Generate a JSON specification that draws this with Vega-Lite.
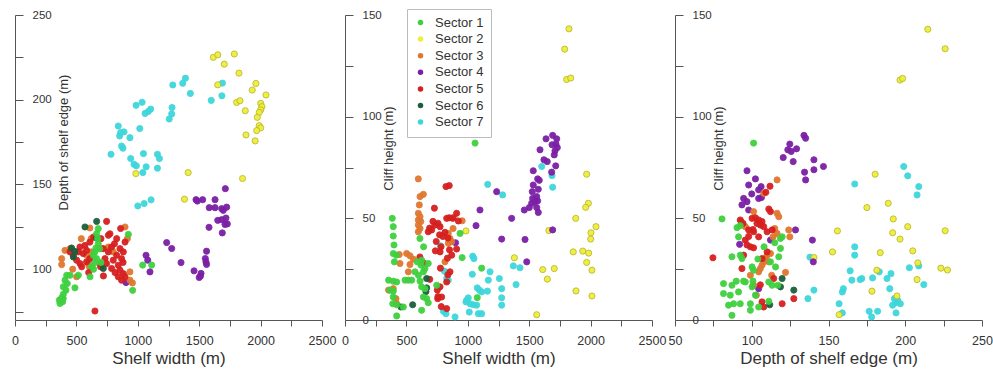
{
"$schema": "https://vega.github.io/schema/vega-lite/v6.json",
"background": "white",
"padding": {"left": 11, "top": 8, "right": 0, "bottom": 0},
"bounds": "flush",
"spacing": 23,
"config": {
  "view": {"stroke": null},
  "axis": {"grid": false, "domainColor": "#555", "tickColor": "#555", "labelColor": "#333", "titleColor": "#333", "labelFont": "Liberation Sans", "titleFont": "Liberation Sans", "titleFontWeight": "normal", "domainWidth": 1, "tickWidth": 1}
},
"resolve": {"legend": {"color": "independent"}},
"datasets": {
"p1": [
{"sector":"Sector 7","width":1285,"depth":208.7},{"sector":"Sector 7","width":1366,"depth":209.7},{"sector":"Sector 7","width":1388,"depth":212.7},{"sector":"Sector 7","width":1428,"depth":203.7},{"sector":"Sector 7","width":1689,"depth":209.8},{"sector":"Sector 7","width":1685,"depth":202.3},{"sector":"Sector 7","width":1598,"depth":199.6},{"sector":"Sector 7","width":986,"depth":196.7},{"sector":"Sector 7","width":1035,"depth":198.5},{"sector":"Sector 7","width":1059,"depth":191.9},{"sector":"Sector 7","width":1086,"depth":193.1},{"sector":"Sector 7","width":1105,"depth":194.5},{"sector":"Sector 7","width":1279,"depth":195.4},{"sector":"Sector 7","width":1276,"depth":191.6},{"sector":"Sector 7","width":1256,"depth":188.6},{"sector":"Sector 7","width":1016,"depth":183},{"sector":"Sector 7","width":841,"depth":184.5},{"sector":"Sector 7","width":860,"depth":180.6},{"sector":"Sector 7","width":888,"depth":181},{"sector":"Sector 7","width":852,"depth":178.6},{"sector":"Sector 7","width":936,"depth":177.6},{"sector":"Sector 7","width":868,"depth":172.7},{"sector":"Sector 7","width":879,"depth":171.4},{"sector":"Sector 7","width":782,"depth":167.8},{"sector":"Sector 7","width":1046,"depth":168.2},{"sector":"Sector 7","width":1160,"depth":167.8},{"sector":"Sector 7","width":1176,"depth":165.3},{"sector":"Sector 7","width":942,"depth":165.3},{"sector":"Sector 7","width":969,"depth":161.9},{"sector":"Sector 7","width":988,"depth":161},{"sector":"Sector 7","width":1068,"depth":160.4},{"sector":"Sector 7","width":1160,"depth":159.6},{"sector":"Sector 7","width":1041,"depth":157},{"sector":"Sector 7","width":1000,"depth":137.3},{"sector":"Sector 7","width":1052,"depth":138.7},{"sector":"Sector 7","width":1108,"depth":140.9},
{"sector":"Sector 2","width":1615,"depth":225},{"sector":"Sector 2","width":1651,"depth":226.5},{"sector":"Sector 2","width":1786,"depth":227},{"sector":"Sector 2","width":1704,"depth":221},{"sector":"Sector 2","width":1824,"depth":215.7},{"sector":"Sector 2","width":1962,"depth":209.6},{"sector":"Sector 2","width":1651,"depth":208.8},{"sector":"Sector 2","width":1932,"depth":205.7},{"sector":"Sector 2","width":2044,"depth":202.8},{"sector":"Sector 2","width":2001,"depth":197.8},{"sector":"Sector 2","width":2011,"depth":195.9},{"sector":"Sector 2","width":2001,"depth":194},{"sector":"Sector 2","width":1989,"depth":192.5},{"sector":"Sector 2","width":1805,"depth":198.4},{"sector":"Sector 2","width":1832,"depth":199.4},{"sector":"Sector 2","width":1875,"depth":193.5},{"sector":"Sector 2","width":1973,"depth":189.6},{"sector":"Sector 2","width":1989,"depth":184.7},{"sector":"Sector 2","width":2001,"depth":183.4},{"sector":"Sector 2","width":1968,"depth":181.8},{"sector":"Sector 2","width":1881,"depth":179.2},{"sector":"Sector 2","width":1956,"depth":175.7},{"sector":"Sector 2","width":984,"depth":156.4},{"sector":"Sector 2","width":1410,"depth":157},{"sector":"Sector 2","width":1853,"depth":153.5},{"sector":"Sector 2","width":1380,"depth":141.3},
{"sector":"Sector 4","width":1713,"depth":147.5},{"sector":"Sector 4","width":1474,"depth":141},{"sector":"Sector 4","width":1485,"depth":140.2},{"sector":"Sector 4","width":1528,"depth":141},{"sector":"Sector 4","width":1629,"depth":141},{"sector":"Sector 4","width":1582,"depth":136.3},{"sector":"Sector 4","width":1629,"depth":136.3},{"sector":"Sector 4","width":1683,"depth":135.7},{"sector":"Sector 4","width":1724,"depth":136.6},{"sector":"Sector 4","width":1696,"depth":134.7},{"sector":"Sector 4","width":1651,"depth":128.8},{"sector":"Sector 4","width":1683,"depth":129.2},{"sector":"Sector 4","width":1718,"depth":130.2},{"sector":"Sector 4","width":1729,"depth":126.7},{"sector":"Sector 4","width":1710,"depth":126.4},{"sector":"Sector 4","width":1580,"depth":124.7},{"sector":"Sector 4","width":1688,"depth":121.4},{"sector":"Sector 4","width":1235,"depth":115.7},{"sector":"Sector 4","width":1276,"depth":112.2},{"sector":"Sector 4","width":1560,"depth":110.6},{"sector":"Sector 4","width":1550,"depth":106.3},{"sector":"Sector 4","width":1555,"depth":104.3},{"sector":"Sector 4","width":1560,"depth":102.8},{"sector":"Sector 4","width":1352,"depth":103.9},{"sector":"Sector 4","width":1067,"depth":108.2},{"sector":"Sector 4","width":1081,"depth":105.3},{"sector":"Sector 4","width":1099,"depth":98.4},{"sector":"Sector 4","width":1458,"depth":99},{"sector":"Sector 4","width":1515,"depth":97.5},{"sector":"Sector 4","width":1510,"depth":95.9},{"sector":"Sector 4","width":1500,"depth":95.1},{"sector":"Sector 4","width":904,"depth":92.1},
{"sector":"Sector 3","width":896,"depth":124.9},{"sector":"Sector 3","width":610,"depth":124.3},{"sector":"Sector 3","width":407,"depth":111.1},{"sector":"Sector 3","width":448,"depth":112.1},{"sector":"Sector 3","width":380,"depth":106.2},{"sector":"Sector 3","width":380,"depth":102.7},{"sector":"Sector 3","width":583,"depth":108.2},{"sector":"Sector 3","width":597,"depth":103.3},{"sector":"Sector 3","width":624,"depth":110.2},{"sector":"Sector 3","width":706,"depth":112.1},{"sector":"Sector 3","width":760,"depth":113.1},{"sector":"Sector 3","width":800,"depth":110.2},{"sector":"Sector 3","width":936,"depth":93.5},{"sector":"Sector 3","width":936,"depth":98.4},{"sector":"Sector 3","width":502,"depth":95.5},{"sector":"Sector 3","width":605,"depth":101.4},{"sector":"Sector 3","width":692,"depth":103.3},{"sector":"Sector 3","width":915,"depth":118},{"sector":"Sector 3","width":956,"depth":91.9},{"sector":"Sector 3","width":620,"depth":118},{"sector":"Sector 3","width":540,"depth":118},{"sector":"Sector 3","width":470,"depth":100},
{"sector":"Sector 5","width":746,"depth":128.2},{"sector":"Sector 5","width":773,"depth":120.9},{"sector":"Sector 5","width":760,"depth":120},{"sector":"Sector 5","width":828,"depth":118},{"sector":"Sector 5","width":896,"depth":116},{"sector":"Sector 5","width":529,"depth":113.1},{"sector":"Sector 5","width":570,"depth":114},{"sector":"Sector 5","width":610,"depth":116},{"sector":"Sector 5","width":516,"depth":110.2},{"sector":"Sector 5","width":556,"depth":109.2},{"sector":"Sector 5","width":583,"depth":111.1},{"sector":"Sector 5","width":719,"depth":112.1},{"sector":"Sector 5","width":760,"depth":110.2},{"sector":"Sector 5","width":787,"depth":113.1},{"sector":"Sector 5","width":855,"depth":112.1},{"sector":"Sector 5","width":882,"depth":110.2},{"sector":"Sector 5","width":828,"depth":108.2},{"sector":"Sector 5","width":868,"depth":106.2},{"sector":"Sector 5","width":800,"depth":105.3},{"sector":"Sector 5","width":746,"depth":103.3},{"sector":"Sector 5","width":841,"depth":102.3},{"sector":"Sector 5","width":855,"depth":99.4},{"sector":"Sector 5","width":882,"depth":97.4},{"sector":"Sector 5","width":841,"depth":95.5},{"sector":"Sector 5","width":896,"depth":95.5},{"sector":"Sector 5","width":868,"depth":93.5},{"sector":"Sector 5","width":448,"depth":110.2},{"sector":"Sector 5","width":475,"depth":108.2},{"sector":"Sector 5","width":502,"depth":105.3},{"sector":"Sector 5","width":529,"depth":103.3},{"sector":"Sector 5","width":583,"depth":104.3},{"sector":"Sector 5","width":610,"depth":106.2},{"sector":"Sector 5","width":543,"depth":101.4},{"sector":"Sector 5","width":697,"depth":101.4},{"sector":"Sector 5","width":733,"depth":106.2},{"sector":"Sector 5","width":787,"depth":100.4},{"sector":"Sector 5","width":651,"depth":75.3},{"sector":"Sector 5","width":700,"depth":118},{"sector":"Sector 5","width":640,"depth":119},{"sector":"Sector 5","width":810,"depth":115},{"sector":"Sector 5","width":720,"depth":96},{"sector":"Sector 5","width":600,"depth":98},{"sector":"Sector 5","width":860,"depth":124},{"sector":"Sector 5","width":880,"depth":104},{"sector":"Sector 5","width":815,"depth":98},
{"sector":"Sector 6","width":665,"depth":128.2},{"sector":"Sector 6","width":570,"depth":124.9},{"sector":"Sector 6","width":461,"depth":112.5},{"sector":"Sector 6","width":475,"depth":107.2},{"sector":"Sector 6","width":488,"depth":110.5},{"sector":"Sector 6","width":665,"depth":118.4},{"sector":"Sector 6","width":719,"depth":100.4},
{"sector":"Sector 1","width":678,"depth":123.9},{"sector":"Sector 1","width":665,"depth":120.9},{"sector":"Sector 1","width":673,"depth":118},{"sector":"Sector 1","width":678,"depth":115},{"sector":"Sector 1","width":659,"depth":112.5},{"sector":"Sector 1","width":651,"depth":110.2},{"sector":"Sector 1","width":638,"depth":108.2},{"sector":"Sector 1","width":665,"depth":106.2},{"sector":"Sector 1","width":651,"depth":103.9},{"sector":"Sector 1","width":624,"depth":101.7},{"sector":"Sector 1","width":923,"depth":120.5},{"sector":"Sector 1","width":421,"depth":96.4},{"sector":"Sector 1","width":448,"depth":96.4},{"sector":"Sector 1","width":407,"depth":93.5},{"sector":"Sector 1","width":426,"depth":91.5},{"sector":"Sector 1","width":393,"depth":89.6},{"sector":"Sector 1","width":415,"depth":87.6},{"sector":"Sector 1","width":393,"depth":85.1},{"sector":"Sector 1","width":380,"depth":83.1},{"sector":"Sector 1","width":361,"depth":81.7},{"sector":"Sector 1","width":388,"depth":80.8},{"sector":"Sector 1","width":366,"depth":79.8},{"sector":"Sector 1","width":393,"depth":82.7},{"sector":"Sector 1","width":516,"depth":96.4},{"sector":"Sector 1","width":488,"depth":89},{"sector":"Sector 1","width":611,"depth":95.5},{"sector":"Sector 1","width":958,"depth":87.5},{"sector":"Sector 1","width":1040,"depth":102.4},{"sector":"Sector 1","width":1113,"depth":102.4},{"sector":"Sector 1","width":690,"depth":112},{"sector":"Sector 1","width":640,"depth":100},{"sector":"Sector 1","width":700,"depth":104}
],
"p2": [
{"sector":"Sector 7","width":1602,"height":75.5},{"sector":"Sector 7","width":1686,"height":71},{"sector":"Sector 7","width":1691,"height":65.3},{"sector":"Sector 7","width":1162,"height":66.7},{"sector":"Sector 7","width":1284,"height":61.5},{"sector":"Sector 7","width":1040,"height":31.4},{"sector":"Sector 7","width":1050,"height":30.2},{"sector":"Sector 7","width":1181,"height":23.7},{"sector":"Sector 7","width":1037,"height":22.5},{"sector":"Sector 7","width":1371,"height":26.6},{"sector":"Sector 7","width":1425,"height":25.7},{"sector":"Sector 7","width":1257,"height":20.4},{"sector":"Sector 7","width":1167,"height":19.6},{"sector":"Sector 7","width":1393,"height":17.4},{"sector":"Sector 7","width":1276,"height":15.4},{"sector":"Sector 7","width":1077,"height":15.8},{"sector":"Sector 7","width":1094,"height":14.7},{"sector":"Sector 7","width":1113,"height":13.8},{"sector":"Sector 7","width":1160,"height":14.2},{"sector":"Sector 7","width":1276,"height":10.9},{"sector":"Sector 7","width":1004,"height":10.9},{"sector":"Sector 7","width":985,"height":8.9},{"sector":"Sector 7","width":1018,"height":8},{"sector":"Sector 7","width":1045,"height":7.5},{"sector":"Sector 7","width":1072,"height":7.3},{"sector":"Sector 7","width":1276,"height":7.3},{"sector":"Sector 7","width":1012,"height":3.9},{"sector":"Sector 7","width":1086,"height":3.1},{"sector":"Sector 7","width":1113,"height":3.1},{"sector":"Sector 7","width":778,"height":36.5},{"sector":"Sector 7","width":810,"height":24},{"sector":"Sector 7","width":828,"height":20.4},{"sector":"Sector 7","width":841,"height":19.6},{"sector":"Sector 7","width":801,"height":4.3},{"sector":"Sector 7","width":822,"height":3.1},{"sector":"Sector 7","width":896,"height":1.5},{"sector":"Sector 7","width":991,"height":9.7},
{"sector":"Sector 2","width":1824,"height":143.2},{"sector":"Sector 2","width":1789,"height":133.2},{"sector":"Sector 2","width":1805,"height":118.3},{"sector":"Sector 2","width":1838,"height":119},{"sector":"Sector 2","width":1968,"height":71.7},{"sector":"Sector 2","width":1982,"height":57.4},{"sector":"Sector 2","width":1960,"height":55.4},{"sector":"Sector 2","width":1879,"height":50},{"sector":"Sector 2","width":2044,"height":45.9},{"sector":"Sector 2","width":2003,"height":42.9},{"sector":"Sector 2","width":2001,"height":39.8},{"sector":"Sector 2","width":1859,"height":33.5},{"sector":"Sector 2","width":1936,"height":33.9},{"sector":"Sector 2","width":1984,"height":32.9},{"sector":"Sector 2","width":1968,"height":28.3},{"sector":"Sector 2","width":2011,"height":24.5},{"sector":"Sector 2","width":1881,"height":14.3},{"sector":"Sector 2","width":2011,"height":11.8},{"sector":"Sector 2","width":985,"height":43.8},{"sector":"Sector 2","width":1379,"height":30.6},{"sector":"Sector 2","width":1610,"height":24.8},{"sector":"Sector 2","width":1704,"height":25.3},{"sector":"Sector 2","width":1648,"height":20.1},{"sector":"Sector 2","width":1561,"height":2.6},{"sector":"Sector 2","width":1660,"height":44},
{"sector":"Sector 4","width":1637,"height":89.1},{"sector":"Sector 4","width":1691,"height":90.8},{"sector":"Sector 4","width":1724,"height":89.1},{"sector":"Sector 4","width":1686,"height":86.2},{"sector":"Sector 4","width":1718,"height":86.5},{"sector":"Sector 4","width":1729,"height":84.8},{"sector":"Sector 4","width":1710,"height":83.2},{"sector":"Sector 4","width":1704,"height":81.2},{"sector":"Sector 4","width":1588,"height":83.7},{"sector":"Sector 4","width":1620,"height":78.8},{"sector":"Sector 4","width":1647,"height":77.9},{"sector":"Sector 4","width":1716,"height":75.8},{"sector":"Sector 4","width":1683,"height":72.7},{"sector":"Sector 4","width":1533,"height":73.4},{"sector":"Sector 4","width":1569,"height":69.4},{"sector":"Sector 4","width":1582,"height":68.7},{"sector":"Sector 4","width":1533,"height":66.4},{"sector":"Sector 4","width":1525,"height":63.1},{"sector":"Sector 4","width":1574,"height":64.3},{"sector":"Sector 4","width":1528,"height":59.8},{"sector":"Sector 4","width":1561,"height":60.7},{"sector":"Sector 4","width":1569,"height":58.6},{"sector":"Sector 4","width":1520,"height":57.4},{"sector":"Sector 4","width":1547,"height":58.2},{"sector":"Sector 4","width":1501,"height":55.3},{"sector":"Sector 4","width":1460,"height":54.1},{"sector":"Sector 4","width":1561,"height":55.3},{"sector":"Sector 4","width":1574,"height":52.9},{"sector":"Sector 4","width":1235,"height":63.1},{"sector":"Sector 4","width":1099,"height":54.1},{"sector":"Sector 4","width":1357,"height":50},{"sector":"Sector 4","width":1067,"height":46.4},{"sector":"Sector 4","width":1691,"height":44.3},{"sector":"Sector 4","width":1276,"height":39.8},{"sector":"Sector 4","width":1466,"height":39.6},{"sector":"Sector 4","width":1480,"height":28.6},{"sector":"Sector 4","width":900,"height":38},
{"sector":"Sector 3","width":597,"height":69.4},{"sector":"Sector 3","width":611,"height":60.7},{"sector":"Sector 3","width":638,"height":61.8},{"sector":"Sector 3","width":605,"height":56.6},{"sector":"Sector 3","width":597,"height":52.5},{"sector":"Sector 3","width":611,"height":50.8},{"sector":"Sector 3","width":597,"height":49.2},{"sector":"Sector 3","width":617,"height":48.4},{"sector":"Sector 3","width":597,"height":46.7},{"sector":"Sector 3","width":611,"height":45},{"sector":"Sector 3","width":597,"height":43.4},{"sector":"Sector 3","width":442,"height":32.2},{"sector":"Sector 3","width":502,"height":32.7},{"sector":"Sector 3","width":529,"height":31.6},{"sector":"Sector 3","width":529,"height":27.3},{"sector":"Sector 3","width":448,"height":27.8},{"sector":"Sector 3","width":516,"height":23.7},{"sector":"Sector 3","width":556,"height":29.9},{"sector":"Sector 3","width":393,"height":15.4},{"sector":"Sector 3","width":355,"height":14.7},{"sector":"Sector 3","width":415,"height":10.5},{"sector":"Sector 3","width":421,"height":8},{"sector":"Sector 3","width":841,"height":42.6},{"sector":"Sector 3","width":855,"height":40.1},{"sector":"Sector 3","width":869,"height":38.5},{"sector":"Sector 3","width":841,"height":37.7},{"sector":"Sector 3","width":814,"height":28.6},{"sector":"Sector 3","width":954,"height":48.8},{"sector":"Sector 3","width":885,"height":50.5},{"sector":"Sector 3","width":880,"height":45},
{"sector":"Sector 5","width":822,"height":65.6},{"sector":"Sector 5","width":849,"height":66.1},{"sector":"Sector 5","width":706,"height":44.3},{"sector":"Sector 5","width":678,"height":43.4},{"sector":"Sector 5","width":733,"height":46.7},{"sector":"Sector 5","width":774,"height":45.9},{"sector":"Sector 5","width":828,"height":50},{"sector":"Sector 5","width":849,"height":50.3},{"sector":"Sector 5","width":877,"height":50},{"sector":"Sector 5","width":909,"height":52.5},{"sector":"Sector 5","width":923,"height":48.7},{"sector":"Sector 5","width":814,"height":43.1},{"sector":"Sector 5","width":774,"height":33.5},{"sector":"Sector 5","width":782,"height":36},{"sector":"Sector 5","width":869,"height":31.9},{"sector":"Sector 5","width":909,"height":34.9},{"sector":"Sector 5","width":855,"height":23.7},{"sector":"Sector 5","width":828,"height":18.7},{"sector":"Sector 5","width":774,"height":16.3},{"sector":"Sector 5","width":752,"height":14.7},{"sector":"Sector 5","width":787,"height":11.3},{"sector":"Sector 5","width":755,"height":10.5},{"sector":"Sector 5","width":828,"height":5.6},{"sector":"Sector 5","width":728,"height":55},{"sector":"Sector 5","width":716,"height":48.5},{"sector":"Sector 5","width":757,"height":47.6},{"sector":"Sector 5","width":689,"height":45.2},{"sector":"Sector 5","width":770,"height":41.9},{"sector":"Sector 5","width":797,"height":41.1},{"sector":"Sector 5","width":838,"height":40.3},{"sector":"Sector 5","width":743,"height":38.6},{"sector":"Sector 5","width":736,"height":34},{"sector":"Sector 5","width":851,"height":34.5},{"sector":"Sector 5","width":834,"height":30.4},{"sector":"Sector 5","width":777,"height":25.5},{"sector":"Sector 5","width":838,"height":22.2},{"sector":"Sector 5","width":757,"height":11.5},{"sector":"Sector 5","width":784,"height":6.6},{"sector":"Sector 5","width":610,"height":31},{"sector":"Sector 5","width":690,"height":20},{"sector":"Sector 5","width":640,"height":28},
{"sector":"Sector 6","width":665,"height":20.4},{"sector":"Sector 6","width":665,"height":15.8},{"sector":"Sector 6","width":659,"height":14},{"sector":"Sector 6","width":456,"height":6.4},{"sector":"Sector 6","width":551,"height":7.5},
{"sector":"Sector 1","width":385,"height":50},{"sector":"Sector 1","width":393,"height":45.9},{"sector":"Sector 1","width":393,"height":41.3},{"sector":"Sector 1","width":399,"height":36.9},{"sector":"Sector 1","width":393,"height":32.7},{"sector":"Sector 1","width":418,"height":31.9},{"sector":"Sector 1","width":402,"height":28.6},{"sector":"Sector 1","width":610,"height":40.1},{"sector":"Sector 1","width":624,"height":29.4},{"sector":"Sector 1","width":619,"height":27},{"sector":"Sector 1","width":651,"height":25.3},{"sector":"Sector 1","width":678,"height":27.8},{"sector":"Sector 1","width":588,"height":28.6},{"sector":"Sector 1","width":570,"height":23.7},{"sector":"Sector 1","width":638,"height":23.7},{"sector":"Sector 1","width":598,"height":22},{"sector":"Sector 1","width":937,"height":42.6},{"sector":"Sector 1","width":954,"height":30.7},{"sector":"Sector 1","width":1059,"height":87},{"sector":"Sector 1","width":355,"height":19.6},{"sector":"Sector 1","width":393,"height":19.1},{"sector":"Sector 1","width":421,"height":18.7},{"sector":"Sector 1","width":489,"height":19.6},{"sector":"Sector 1","width":516,"height":19.6},{"sector":"Sector 1","width":543,"height":19.6},{"sector":"Sector 1","width":611,"height":19.1},{"sector":"Sector 1","width":624,"height":16.3},{"sector":"Sector 1","width":651,"height":15.4},{"sector":"Sector 1","width":366,"height":14.7},{"sector":"Sector 1","width":393,"height":14.2},{"sector":"Sector 1","width":747,"height":17.1},{"sector":"Sector 1","width":393,"height":11.3},{"sector":"Sector 1","width":389,"height":8},{"sector":"Sector 1","width":421,"height":7.5},{"sector":"Sector 1","width":475,"height":6.4},{"sector":"Sector 1","width":638,"height":11.3},{"sector":"Sector 1","width":665,"height":10.5},{"sector":"Sector 1","width":678,"height":8.5},{"sector":"Sector 1","width":624,"height":4.8},{"sector":"Sector 1","width":421,"height":2},{"sector":"Sector 1","width":1077,"height":11},{"sector":"Sector 1","width":1113,"height":25.5},{"sector":"Sector 1","width":640,"height":36}
],
"p3": [
{"sector":"Sector 7","depth":199,"height":75.5},{"sector":"Sector 7","depth":201.6,"height":70.9},{"sector":"Sector 7","depth":208.8,"height":65.6},{"sector":"Sector 7","depth":207.7,"height":61.5},{"sector":"Sector 7","depth":167.1,"height":66.9},{"sector":"Sector 7","depth":167.1,"height":36},{"sector":"Sector 7","depth":167.1,"height":31.9},{"sector":"Sector 7","depth":137.9,"height":30.9},{"sector":"Sector 7","depth":164.1,"height":24.2},{"sector":"Sector 7","depth":165.2,"height":19.6},{"sector":"Sector 7","depth":170.6,"height":19.9},{"sector":"Sector 7","depth":171.7,"height":20.4},{"sector":"Sector 7","depth":178.7,"height":20.7},{"sector":"Sector 7","depth":183.1,"height":23.7},{"sector":"Sector 7","depth":188.1,"height":20.4},{"sector":"Sector 7","depth":190.7,"height":22.8},{"sector":"Sector 7","depth":202.7,"height":25.7},{"sector":"Sector 7","depth":208.8,"height":26.6},{"sector":"Sector 7","depth":212.1,"height":17.4},{"sector":"Sector 7","depth":189.9,"height":15.4},{"sector":"Sector 7","depth":140.5,"height":14.7},{"sector":"Sector 7","depth":136.6,"height":10.5},{"sector":"Sector 7","depth":159.7,"height":15.4},{"sector":"Sector 7","depth":159,"height":13.8},{"sector":"Sector 7","depth":156.9,"height":8},{"sector":"Sector 7","depth":159,"height":3.5},{"sector":"Sector 7","depth":176.5,"height":4.3},{"sector":"Sector 7","depth":178.1,"height":1.5},{"sector":"Sector 7","depth":182,"height":4.3},{"sector":"Sector 7","depth":192.9,"height":10.5},{"sector":"Sector 7","depth":194,"height":8.5},{"sector":"Sector 7","depth":195.1,"height":9.7},{"sector":"Sector 7","depth":196.8,"height":8},{"sector":"Sector 7","depth":191.8,"height":7.3},{"sector":"Sector 7","depth":194,"height":3.5},
{"sector":"Sector 2","depth":214.7,"height":143},{"sector":"Sector 2","depth":226,"height":133.4},{"sector":"Sector 2","depth":196.6,"height":118},{"sector":"Sector 2","depth":198.3,"height":118.8},{"sector":"Sector 2","depth":180.4,"height":71.7},{"sector":"Sector 2","depth":175,"height":55.3},{"sector":"Sector 2","depth":188.9,"height":57.4},{"sector":"Sector 2","depth":192.2,"height":49.7},{"sector":"Sector 2","depth":201.6,"height":45.9},{"sector":"Sector 2","depth":191.8,"height":42.9},{"sector":"Sector 2","depth":196.6,"height":39.8},{"sector":"Sector 2","depth":155.8,"height":43.8},{"sector":"Sector 2","depth":152.6,"height":33.5},{"sector":"Sector 2","depth":183.7,"height":33.1},{"sector":"Sector 2","depth":204.9,"height":34},{"sector":"Sector 2","depth":208.2,"height":28.1},{"sector":"Sector 2","depth":140.5,"height":30.7},{"sector":"Sector 2","depth":181.5,"height":24.5},{"sector":"Sector 2","depth":178.3,"height":14.2},{"sector":"Sector 2","depth":207.7,"height":19.9},{"sector":"Sector 2","depth":194.6,"height":11.8},{"sector":"Sector 2","depth":156.9,"height":2.6},{"sector":"Sector 2","depth":223.2,"height":25.5},{"sector":"Sector 2","depth":227.5,"height":24.6},{"sector":"Sector 2","depth":226,"height":43.9},
{"sector":"Sector 4","depth":134,"height":90.8},{"sector":"Sector 4","depth":135.1,"height":89.4},{"sector":"Sector 4","depth":124.8,"height":86.5},{"sector":"Sector 4","depth":123.5,"height":83.7},{"sector":"Sector 4","depth":125.7,"height":82.9},{"sector":"Sector 4","depth":129.2,"height":84.2},{"sector":"Sector 4","depth":120.5,"height":79.9},{"sector":"Sector 4","depth":127,"height":77.9},{"sector":"Sector 4","depth":140.5,"height":78.8},{"sector":"Sector 4","depth":146.7,"height":75.5},{"sector":"Sector 4","depth":140.5,"height":73.9},{"sector":"Sector 4","depth":134.4,"height":72.7},{"sector":"Sector 4","depth":135.1,"height":68.9},{"sector":"Sector 4","depth":96.9,"height":73.4},{"sector":"Sector 4","depth":102.4,"height":69.4},{"sector":"Sector 4","depth":98,"height":66.4},{"sector":"Sector 4","depth":106.1,"height":65.6},{"sector":"Sector 4","depth":104.5,"height":64},{"sector":"Sector 4","depth":94.7,"height":59.8},{"sector":"Sector 4","depth":96.9,"height":58.2},{"sector":"Sector 4","depth":93.6,"height":56.6},{"sector":"Sector 4","depth":104.5,"height":59.8},{"sector":"Sector 4","depth":106.3,"height":60.2},{"sector":"Sector 4","depth":98,"height":54.1},{"sector":"Sector 4","depth":128.5,"height":44.3},{"sector":"Sector 4","depth":92.1,"height":37.2},{"sector":"Sector 4","depth":112.2,"height":39.3},{"sector":"Sector 4","depth":104.5,"height":15.4},{"sector":"Sector 4","depth":139.5,"height":39.3},{"sector":"Sector 4","depth":140.1,"height":28.6},{"sector":"Sector 4","depth":100,"height":62},
{"sector":"Sector 3","depth":116.5,"height":68.9},{"sector":"Sector 3","depth":107.8,"height":62.3},{"sector":"Sector 3","depth":101.2,"height":53.3},{"sector":"Sector 3","depth":116.5,"height":52.5},{"sector":"Sector 3","depth":117.6,"height":50.8},{"sector":"Sector 3","depth":124.1,"height":44.3},{"sector":"Sector 3","depth":124.8,"height":40.9},{"sector":"Sector 3","depth":116.5,"height":42.6},{"sector":"Sector 3","depth":113.9,"height":40.9},{"sector":"Sector 3","depth":110,"height":31.9},{"sector":"Sector 3","depth":112.2,"height":32.7},{"sector":"Sector 3","depth":108.9,"height":30.2},{"sector":"Sector 3","depth":111.1,"height":28.6},{"sector":"Sector 3","depth":106.7,"height":27},{"sector":"Sector 3","depth":105.6,"height":25.3},{"sector":"Sector 3","depth":104.5,"height":23.7},{"sector":"Sector 3","depth":107.8,"height":28.6},{"sector":"Sector 3","depth":122,"height":23.4},{"sector":"Sector 3","depth":95.8,"height":45.9},{"sector":"Sector 3","depth":99.1,"height":22},{"sector":"Sector 3","depth":101.2,"height":17.1},{"sector":"Sector 3","depth":103,"height":12.2},{"sector":"Sector 3","depth":93,"height":48.5},{"sector":"Sector 3","depth":115,"height":45},{"sector":"Sector 3","depth":113,"height":22},
{"sector":"Sector 5","depth":111.9,"height":65.8},{"sector":"Sector 5","depth":109.2,"height":62.8},{"sector":"Sector 5","depth":111.1,"height":54.6},{"sector":"Sector 5","depth":112.2,"height":53.3},{"sector":"Sector 5","depth":100.2,"height":50},{"sector":"Sector 5","depth":102.4,"height":50.3},{"sector":"Sector 5","depth":104.5,"height":49.2},{"sector":"Sector 5","depth":106.7,"height":48.4},{"sector":"Sector 5","depth":103.4,"height":47.5},{"sector":"Sector 5","depth":105.6,"height":46.7},{"sector":"Sector 5","depth":107.8,"height":45.9},{"sector":"Sector 5","depth":92.5,"height":49.2},{"sector":"Sector 5","depth":94.3,"height":47.5},{"sector":"Sector 5","depth":98,"height":44.3},{"sector":"Sector 5","depth":101.2,"height":43.4},{"sector":"Sector 5","depth":110,"height":43.4},{"sector":"Sector 5","depth":113.3,"height":44.3},{"sector":"Sector 5","depth":104.5,"height":40.9},{"sector":"Sector 5","depth":95.8,"height":39.3},{"sector":"Sector 5","depth":99.1,"height":36},{"sector":"Sector 5","depth":101.2,"height":35.5},{"sector":"Sector 5","depth":96.9,"height":36.9},{"sector":"Sector 5","depth":110,"height":33.5},{"sector":"Sector 5","depth":74.7,"height":30.6},{"sector":"Sector 5","depth":94.7,"height":31.9},{"sector":"Sector 5","depth":93.6,"height":25.3},{"sector":"Sector 5","depth":106.7,"height":30.2},{"sector":"Sector 5","depth":119.8,"height":8},{"sector":"Sector 5","depth":127.4,"height":10.5},{"sector":"Sector 5","depth":106.7,"height":8.9},{"sector":"Sector 5","depth":107.8,"height":6.4},{"sector":"Sector 5","depth":114.3,"height":20.4},{"sector":"Sector 5","depth":105.6,"height":17.3},{"sector":"Sector 5","depth":98,"height":41.1},{"sector":"Sector 5","depth":100.8,"height":44.5},
{"sector":"Sector 6","depth":119.8,"height":20.4},{"sector":"Sector 6","depth":127.4,"height":14.7},{"sector":"Sector 6","depth":118.7,"height":16.3},{"sector":"Sector 6","depth":111.7,"height":7.5},
{"sector":"Sector 1","depth":101.2,"height":87},{"sector":"Sector 1","depth":80.6,"height":49.7},{"sector":"Sector 1","depth":90.4,"height":45.4},{"sector":"Sector 1","depth":92.5,"height":46.4},{"sector":"Sector 1","depth":91.4,"height":40.9},{"sector":"Sector 1","depth":119.8,"height":40.9},{"sector":"Sector 1","depth":118.7,"height":40.1},{"sector":"Sector 1","depth":118.7,"height":35.2},{"sector":"Sector 1","depth":87.1,"height":31.1},{"sector":"Sector 1","depth":92.5,"height":31.9},{"sector":"Sector 1","depth":93.6,"height":30.2},{"sector":"Sector 1","depth":117.6,"height":31.1},{"sector":"Sector 1","depth":100.2,"height":26.1},{"sector":"Sector 1","depth":101.2,"height":24.5},{"sector":"Sector 1","depth":112.2,"height":28.6},{"sector":"Sector 1","depth":115.5,"height":26.1},{"sector":"Sector 1","depth":95.8,"height":18.7},{"sector":"Sector 1","depth":94.7,"height":19.1},{"sector":"Sector 1","depth":89.9,"height":19.1},{"sector":"Sector 1","depth":100.8,"height":19.1},{"sector":"Sector 1","depth":100.2,"height":16.3},{"sector":"Sector 1","depth":81.6,"height":17.9},{"sector":"Sector 1","depth":87.1,"height":17.1},{"sector":"Sector 1","depth":81.6,"height":13},{"sector":"Sector 1","depth":86,"height":12.2},{"sector":"Sector 1","depth":91.4,"height":13.8},{"sector":"Sector 1","depth":111.1,"height":18.7},{"sector":"Sector 1","depth":113.3,"height":17.1},{"sector":"Sector 1","depth":117,"height":17.1},{"sector":"Sector 1","depth":102.4,"height":12.2},{"sector":"Sector 1","depth":88.2,"height":8},{"sector":"Sector 1","depth":84.9,"height":7.3},{"sector":"Sector 1","depth":92.5,"height":8},{"sector":"Sector 1","depth":99.1,"height":8},{"sector":"Sector 1","depth":99.1,"height":4.8},{"sector":"Sector 1","depth":87.1,"height":2.3},{"sector":"Sector 1","depth":104.5,"height":6.4},{"sector":"Sector 1","depth":111.1,"height":9.2},{"sector":"Sector 1","depth":108,"height":36},{"sector":"Sector 1","depth":115,"height":38},{"sector":"Sector 1","depth":104,"height":30}
]
},
"hconcat": [
{
  "width": 307, "height": 305,
  "data": {"name": "p1"},
  "mark": {"type": "circle", "size": 38, "opacity": 0.95, "strokeWidth": 0.9},
  "encoding": {
    "x": {"field": "width", "type": "quantitative", "scale": {"domain": [0, 2500], "nice": false, "zero": false},
      "axis": {"title": "Shelf width (m)", "values": [0,250,500,750,1000,1250,1500,1750,2000,2250,2500], "format": "d", "labelExpr": "datum.value % 500 === 0 ? datum.label : ''", "labelFontSize": 12.5, "titleFontSize": 17, "tickSize": 6, "labelPadding": 8, "titlePadding": 4, "labelFlush": false, "labelOverlap": false}},
    "y": {"field": "depth", "type": "quantitative", "scale": {"domain": [70, 250], "nice": false, "zero": false},
      "axis": {"title": "Depth of shelf edge (m)", "values": [75,100,125,150,175,200,225,250], "format": "d", "labelExpr": "datum.value % 50 === 0 ? datum.label : ''", "labelFontSize": 11.5, "titleFontSize": 13, "tickSize": -8, "labelPadding": -9, "labelAlign": "left", "labelBaseline": "middle", "labelFlush": false, "labelOverlap": false, "titleX": 48, "titleY": 127, "titleAngle": 270, "titleAlign": "center", "titleBaseline": "middle"}},
    "color": {"field": "sector", "type": "nominal", "scale": {"domain": ["Sector 1","Sector 2","Sector 3","Sector 4","Sector 5","Sector 6","Sector 7"], "range": ["#3fd03f","#eeee3c","#e0772f","#7b1fa5","#d61f1f","#1c5e3c","#3dd6db"]}, "legend": null},
    "stroke": {"field": "sector", "type": "nominal", "scale": {"domain": ["Sector 1","Sector 2","Sector 3","Sector 4","Sector 5","Sector 6","Sector 7"], "range": ["#3fd03f","#b9b728","#e0772f","#7b1fa5","#d61f1f","#1c5e3c","#3dd6db"]}, "legend": null}
  }
},
{
  "width": 307, "height": 305,
  "data": {"name": "p2"},
  "mark": {"type": "circle", "size": 38, "opacity": 0.95, "strokeWidth": 0.9},
  "encoding": {
    "x": {"field": "width", "type": "quantitative", "scale": {"domain": [0, 2500], "nice": false, "zero": false},
      "axis": {"title": "Shelf width (m)", "values": [0,250,500,750,1000,1250,1500,1750,2000,2250,2500], "format": "d", "labelExpr": "datum.value % 500 === 0 ? datum.label : ''", "labelFontSize": 12.5, "titleFontSize": 17, "tickSize": 6, "labelPadding": 8, "titlePadding": 4, "labelFlush": false, "labelOverlap": false}},
    "y": {"field": "height", "type": "quantitative", "scale": {"domain": [0, 150], "nice": false},
      "axis": {"title": "Cliff height (m)", "values": [0,25,50,75,100,125,150], "format": "d", "labelExpr": "datum.value % 50 === 0 ? datum.label : ''", "labelFontSize": 11.5, "titleFontSize": 13, "tickSize": -8, "labelPadding": -9, "labelAlign": "left", "labelBaseline": "middle", "labelFlush": false, "labelOverlap": false, "titleX": 43, "titleY": 133, "titleAngle": 270, "titleAlign": "center", "titleBaseline": "middle"}},
    "color": {"field": "sector", "type": "nominal", "scale": {"domain": ["Sector 1","Sector 2","Sector 3","Sector 4","Sector 5","Sector 6","Sector 7"], "range": ["#3fd03f","#eeee3c","#e0772f","#7b1fa5","#d61f1f","#1c5e3c","#3dd6db"]},
      "legend": {"orient": "none", "legendX": 62, "legendY": -6, "title": null, "strokeColor": "#bbbbbb", "fillColor": "white", "padding": 7, "symbolType": "circle", "symbolSize": 30, "symbolStrokeWidth": 0, "symbolOpacity": 1, "labelFontSize": 13, "labelFont": "Liberation Sans", "labelColor": "#333", "rowPadding": 2.6, "labelOffset": 8}},
    "stroke": {"field": "sector", "type": "nominal", "scale": {"domain": ["Sector 1","Sector 2","Sector 3","Sector 4","Sector 5","Sector 6","Sector 7"], "range": ["#3fd03f","#b9b728","#e0772f","#7b1fa5","#d61f1f","#1c5e3c","#3dd6db"]}, "legend": null}
  }
},
{
  "width": 307, "height": 305,
  "data": {"name": "p3"},
  "mark": {"type": "circle", "size": 38, "opacity": 0.95, "strokeWidth": 0.9},
  "encoding": {
    "x": {"field": "depth", "type": "quantitative", "scale": {"domain": [50, 250], "nice": false, "zero": false},
      "axis": {"title": "Depth of shelf edge (m)", "values": [50,75,100,125,150,175,200,225,250], "format": "d", "labelExpr": "datum.value % 50 === 0 ? datum.label : ''", "labelFontSize": 12.5, "titleFontSize": 17, "tickSize": 6, "labelPadding": 8, "titlePadding": 4, "labelFlush": false, "labelOverlap": false}},
    "y": {"field": "height", "type": "quantitative", "scale": {"domain": [0, 150], "nice": false},
      "axis": {"title": "Cliff height (m)", "values": [0,25,50,75,100,125,150], "format": "d", "labelExpr": "datum.value % 50 === 0 ? datum.label : ''", "labelFontSize": 11.5, "titleFontSize": 13, "tickSize": -8, "labelPadding": -9, "labelAlign": "left", "labelBaseline": "middle", "labelFlush": false, "labelOverlap": false, "titleX": 43, "titleY": 133, "titleAngle": 270, "titleAlign": "center", "titleBaseline": "middle"}},
    "color": {"field": "sector", "type": "nominal", "scale": {"domain": ["Sector 1","Sector 2","Sector 3","Sector 4","Sector 5","Sector 6","Sector 7"], "range": ["#3fd03f","#eeee3c","#e0772f","#7b1fa5","#d61f1f","#1c5e3c","#3dd6db"]}, "legend": null},
    "stroke": {"field": "sector", "type": "nominal", "scale": {"domain": ["Sector 1","Sector 2","Sector 3","Sector 4","Sector 5","Sector 6","Sector 7"], "range": ["#3fd03f","#b9b728","#e0772f","#7b1fa5","#d61f1f","#1c5e3c","#3dd6db"]}, "legend": null}
  }
}
]
}
